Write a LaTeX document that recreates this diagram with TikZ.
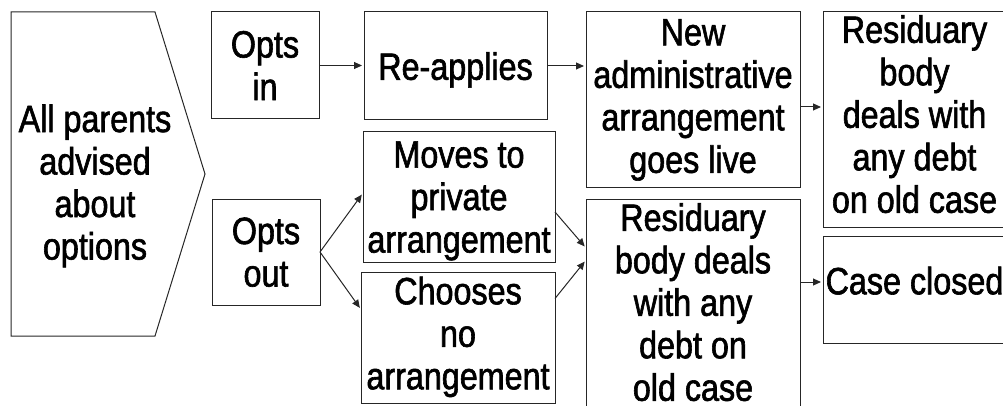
\documentclass[tikz,border=0pt]{standalone}
\usepackage{fontspec}
\setmainfont{Liberation Sans}[FakeStretch=0.85,FakeBold=1.6]
\usetikzlibrary{arrows.meta}
\begin{document}
\begin{tikzpicture}[x=1pt,y=-1pt,
  box/.style={draw=black!85, line width=1pt, inner sep=0pt, outer sep=0pt, align=center,
    anchor=north west, text depth=0pt, font=\fontsize{38}{42.5}\selectfont},
  arr/.style={draw=black!85, line width=1pt, -{Triangle[length=8pt,width=7pt]}, shorten >=2pt}]
\useasboundingbox (0,0) rectangle (1003,406);
\clip (0,0) rectangle (1003,406);
% start pentagon
\draw[draw=black!85, line width=1pt] (11,12) -- (155,12) -- (205,174) -- (155,336) -- (11,336) -- cycle;
\node[align=center, text depth=0pt, inner sep=0pt, font=\fontsize{38}{42.5}\selectfont] (start) at (95,182) {All parents\\advised\\about\\options};
% boxes
\node[box, minimum width=108pt, minimum height=107pt, text depth=-3pt] (optsin) at (211,12) {Opts\\in};
\node[box, minimum width=108pt, minimum height=106pt, text depth=-3pt] (optsout) at (212,199) {Opts\\out};
\node[box, minimum width=183pt, minimum height=108pt] (reapp) at (364,12) {Re-applies};
\node[box, minimum width=192pt, minimum height=130pt] (moves) at (363,132) {Moves to\\private\\arrangement};
\node[box, minimum width=194pt, minimum height=131pt, text depth=9pt] (choose) at (361,272) {Chooses\\no\\arrangement};
\node[box, minimum width=214pt, minimum height=176pt, text depth=8pt] (newadmin) at (586,12) {New\\administrative\\arrangement\\goes live};
\node[box, minimum width=214pt, minimum height=216pt, text depth=10pt] (resid1) at (586,199) {Residuary\\body deals\\with any\\debt on\\old case};
\node[box, minimum width=183pt, minimum height=215pt, text depth=11pt] (resid2) at (823,12) {Residuary\\body\\deals with\\any debt\\on old case};
\node[box, minimum width=183pt, minimum height=107pt, text depth=18pt] (closed) at (823,236) {Case closed};
% connectors
\draw[arr] (optsin.east) -- (optsin.east -| reapp.west);
\draw[arr] (reapp.east) -- (reapp.east -| newadmin.west);
\draw[arr] (optsout.east) -- ([yshift=4pt]moves.west);
\draw[arr] (optsout.east) -- ([yshift=28pt]choose.west);
\draw[arr] ([yshift=-15pt]moves.east) -- ([yshift=-49pt]resid1.north west);
\draw[arr] ([yshift=39pt]choose.east) -- ([yshift=-61pt]resid1.north west);
\coordinate (a1) at ([yshift=-7pt]newadmin.east);
\draw[arr] (a1) -- (a1 -| resid2.west);
\coordinate (a2) at ([yshift=7.5pt]closed.west);
\draw[arr] (a2 -| resid1.east) -- (a2);
\end{tikzpicture}
\end{document}
